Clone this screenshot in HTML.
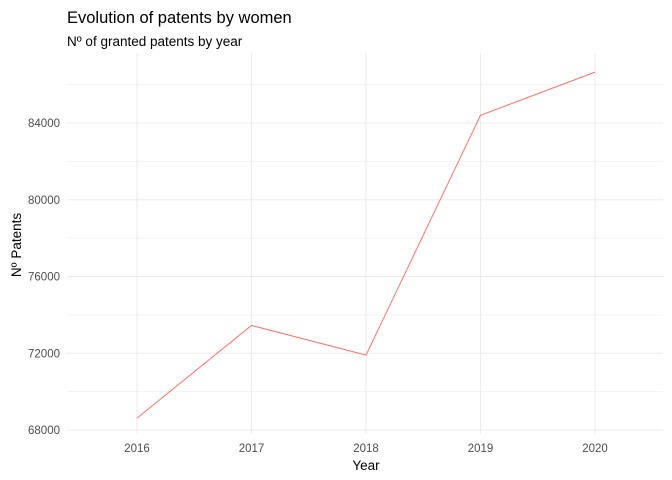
<!DOCTYPE html>
<html><head><meta charset="utf-8"><style>body{margin:0;background:#fff}svg{display:block;font-family:"Liberation Sans",sans-serif}</style></head>
<body>
<svg id="chart" width="672" height="480">
<text x="67" y="23" font-size="16.5" fill="#000">Evolution of patents by women</text>
<text x="67" y="46" font-size="13.5" fill="#000">Nº of granted patents by year</text>
<g id="grid"></g><g id="ticks"></g><g id="series"></g>
<text x="366" y="470" font-size="13.5" text-anchor="middle" fill="#000">Year</text>
<text transform="translate(21,245) rotate(-90)" font-size="13.5" text-anchor="middle" fill="#000">Nº Patents</text>
</svg>
<script>
const years = [2016, 2017, 2018, 2019, 2020];
const patents = [68620, 73450, 71900, 84400, 86650];
const yTicks = [68000, 72000, 76000, 80000, 84000];
const yMinor = [70000, 74000, 78000, 82000, 86000];
const NS = "http://www.w3.org/2000/svg";
const X = v => 137 + (v - 2016) * 114.5;
const Y = v => 430 - (v - 68000) * (307 / 16000);
function mk(tag, attrs, parent) { const e = document.createElementNS(NS, tag); for (const k in attrs) e.setAttribute(k, attrs[k]); document.getElementById(parent).appendChild(e); return e; }
yMinor.forEach(v => { const l = mk('line', {x1: 67, x2: 663, y1: Y(v), y2: Y(v), stroke: '#f3f3f3', 'stroke-width': 1}, 'grid');
  
   });
yTicks.forEach(v => { const l = mk('line', {x1: 67, x2: 663, y1: Y(v), y2: Y(v), stroke: '#ebebeb', 'stroke-width': 1}, 'grid');
  
  
  const t = mk('text', {x: 60, y: Y(v) + 4, 'font-size': 11.5, 'text-anchor': 'end', fill: '#4d4d4d'}, 'ticks'); t.textContent = v;
  
   });
years.forEach(v => { const l = mk('line', {x1: X(v), x2: X(v), y1: 53, y2: 434, stroke: '#ebebeb', 'stroke-width': 1}, 'grid');
  
  
  const t = mk('text', {x: X(v), y: 452, 'font-size': 11.5, 'text-anchor': 'middle', fill: '#4d4d4d'}, 'ticks'); t.textContent = v;
  
   });
const p = mk('polyline', {points: years.map((y, i) => X(y) + ',' + Y(patents[i])).join(' '), fill: 'none', stroke: '#f8766d', 'stroke-width': 1}, 'series');


</script>
</body></html>
